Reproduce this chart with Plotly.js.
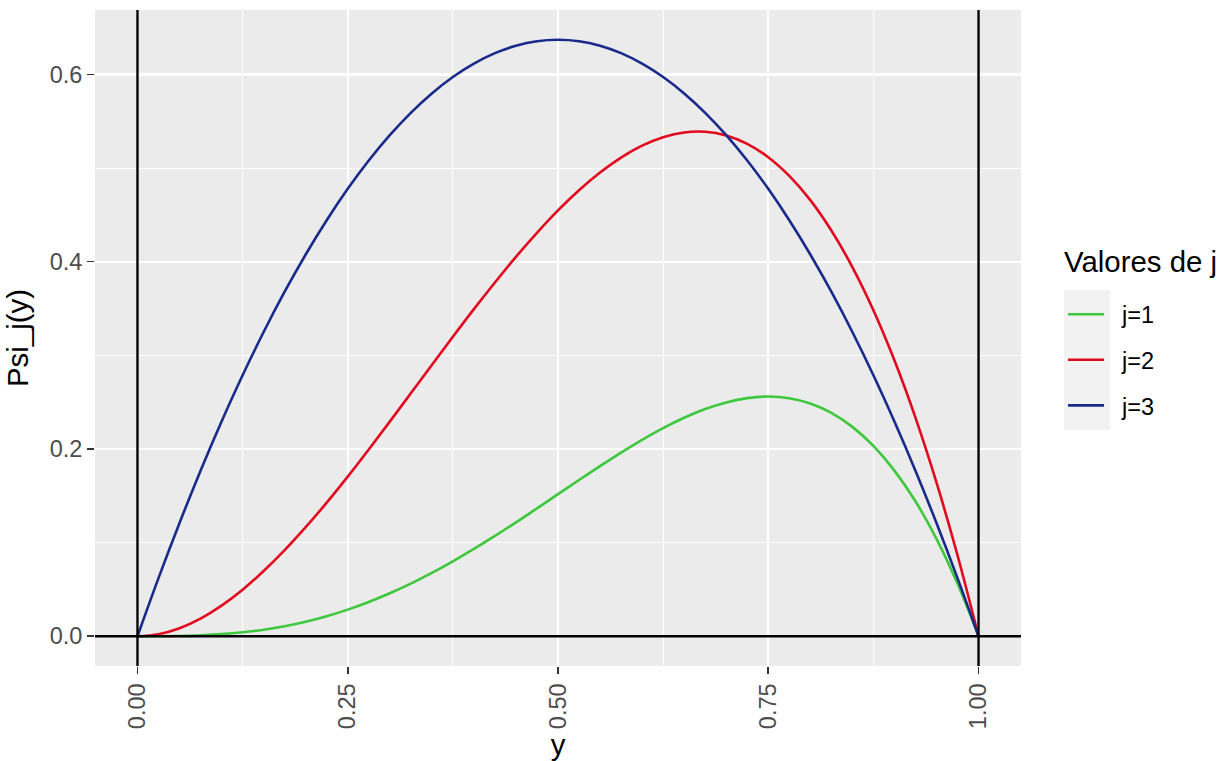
<!DOCTYPE html>
<html>
<head>
<meta charset="utf-8">
<script src="https://cdn.plot.ly/plotly-3.0.1.min.js"></script>
<style>html,body{margin:0;padding:0;background:#fff;}#chart{width:1225px;height:761px;}</style>
</head>
<body>
<div id="chart"></div>
<script>
// values
const yGrid = [0, 0.025, 0.05, 0.075, 0.10, 0.125, 0.15, 0.175, 0.20, 0.225, 0.25, 0.275, 0.30, 0.325, 0.35, 0.375, 0.40, 0.425, 0.45, 0.475, 0.50,
               0.525, 0.55, 0.575, 0.60, 0.625, 0.65, 0.675, 0.70, 0.725, 0.75, 0.775, 0.80, 0.825, 0.85, 0.875, 0.90, 0.925, 0.95, 0.975, 1.00];
const psiJ1 = [0, 0.00004, 0.0003, 0.00095, 0.0022, 0.0042, 0.0070, 0.0107, 0.0155, 0.0214, 0.0284, 0.0366, 0.0459, 0.0562, 0.0676, 0.0800, 0.0932, 0.1071, 0.1216, 0.1366, 0.1517,
               0.1668, 0.1817, 0.1961, 0.2097, 0.2222, 0.2333, 0.2426, 0.2497, 0.2543, 0.2560, 0.2542, 0.2485, 0.2385, 0.2236, 0.2032, 0.1769, 0.1441, 0.1040, 0.0562, 0];
const psiJ2 = [0, 0.0022, 0.0086, 0.0189, 0.0327, 0.0497, 0.0696, 0.0919, 0.1164, 0.1427, 0.1705, 0.1995, 0.2292, 0.2594, 0.2897, 0.3198, 0.3493, 0.3778, 0.4052, 0.4309, 0.4548,
               0.4763, 0.4952, 0.5112, 0.5239, 0.5329, 0.5380, 0.5387, 0.5348, 0.5259, 0.5116, 0.4916, 0.4657, 0.4333, 0.3943, 0.3482, 0.2947, 0.2335, 0.1642, 0.0865, 0];
const psiJ3 = [0, 0.0621, 0.1210, 0.1768, 0.2293, 0.2787, 0.3249, 0.3679, 0.4077, 0.4443, 0.4778, 0.5080, 0.5351, 0.5590, 0.5797, 0.5972, 0.6115, 0.6227, 0.6306, 0.6354, 0.6370,
               0.6354, 0.6306, 0.6227, 0.6115, 0.5972, 0.5797, 0.5590, 0.5351, 0.5080, 0.4778, 0.4443, 0.4077, 0.3679, 0.3249, 0.2787, 0.2293, 0.1768, 0.1210, 0.0621, 0];
const seriesNames = ["j=1", "j=2", "j=3"];
const seriesColors = ["#3DC83D", "#E2091F", "#1A2A8A"];
const xTickVals = [0, 0.25, 0.5, 0.75, 1];
const xTickText = ["0.00", "0.25", "0.50", "0.75", "1.00"];
const yTickVals = [0, 0.2, 0.4, 0.6];
const yTickText = ["0.0", "0.2", "0.4", "0.6"];
const refV = [0, 1];
const refH = [0];

const seriesVals = [psiJ1, psiJ2, psiJ3];
const traces = seriesVals.map((v, i) => ({
  type: "scatter", mode: "lines", x: yGrid, y: v,
  name: "\u00a0\u00a0" + seriesNames[i], legendgroup: "g" + i,
  line: {color: seriesColors[i], width: 2.6, shape: "spline", smoothing: 1}
}));

const FONT = "Liberation Sans, Arial, sans-serif";
const shapes = [];
// legend key background
shapes.push({type: "rect", xref: "paper", yref: "paper", x0: 1.0464, x1: 1.0961, y0: 0.3598, y1: 0.573,
  fillcolor: "#F2F2F2", line: {width: 0}, layer: "below"});
refV.forEach(v => shapes.push({type: "line", xref: "x", yref: "paper", x0: v, x1: v, y0: 0, y1: 1,
  line: {color: "#000", width: 2.4}, layer: "above"}));
refH.forEach(v => shapes.push({type: "line", xref: "paper", yref: "y", x0: 0, x1: 1, y0: v, y1: v,
  line: {color: "#000", width: 2.4}, layer: "above"}));

const layout = {
  width: 1225, height: 761,
  margin: {l: 95, r: 204, t: 10, b: 95, autoexpand: false},
  paper_bgcolor: "#FFFFFF", plot_bgcolor: "#EBEBEB",
  font: {family: FONT, color: "#000"},
  showlegend: true,
  xaxis: {
    range: [-0.0505, 1.0505], tickmode: "array", tickvals: xTickVals, ticktext: xTickText,
    tickangle: -90, tickfont: {size: 23.5, color: "#4D4D4D", family: FONT},
    ticks: "outside", ticklen: 7, tickwidth: 1.6, tickcolor: "#333333",
    showgrid: true, gridcolor: "#FFFFFF", gridwidth: 2.2, zeroline: false, showline: false,
    minor: {dtick: 0.125, tick0: 0, showgrid: true, gridcolor: "#FFFFFF", gridwidth: 1.1, ticks: ""},
    title: {text: "y", font: {size: 29.4, color: "#000", family: FONT}, standoff: 8},
    automargin: false
  },
  yaxis: {
    range: [-0.0318, 0.6688], tickmode: "array", tickvals: yTickVals, ticktext: yTickText,
    tickfont: {size: 23.5, color: "#4D4D4D", family: FONT},
    ticks: "outside", ticklen: 7, tickwidth: 1.6, tickcolor: "#333333",
    showgrid: true, gridcolor: "#FFFFFF", gridwidth: 2.2, zeroline: false, showline: false,
    minor: {dtick: 0.1, tick0: 0, showgrid: true, gridcolor: "#FFFFFF", gridwidth: 1.1, ticks: ""},
    title: {text: "Psi_j(y)", font: {size: 29.4, color: "#000", family: FONT}, standoff: 12},
    automargin: false
  },
  legend: {
    x: 1.0454, xanchor: "left", y: 0.4665, yanchor: "middle",
    bgcolor: "rgba(0,0,0,0)",
    font: {size: 23.5, color: "#000", family: FONT},
    tracegroupgap: 12,
    itemwidth: 36
  },
  annotations: [{
    text: "Valores de j", xref: "paper", yref: "paper", x: 1.0443, y: 0.6173,
    xanchor: "left", yanchor: "middle", showarrow: false,
    font: {size: 29.4, color: "#000", family: FONT}
  }],
  shapes: shapes
};

Plotly.newPlot("chart", traces, layout, {displayModeBar: false, staticPlot: true});
</script>
</body>
</html>
